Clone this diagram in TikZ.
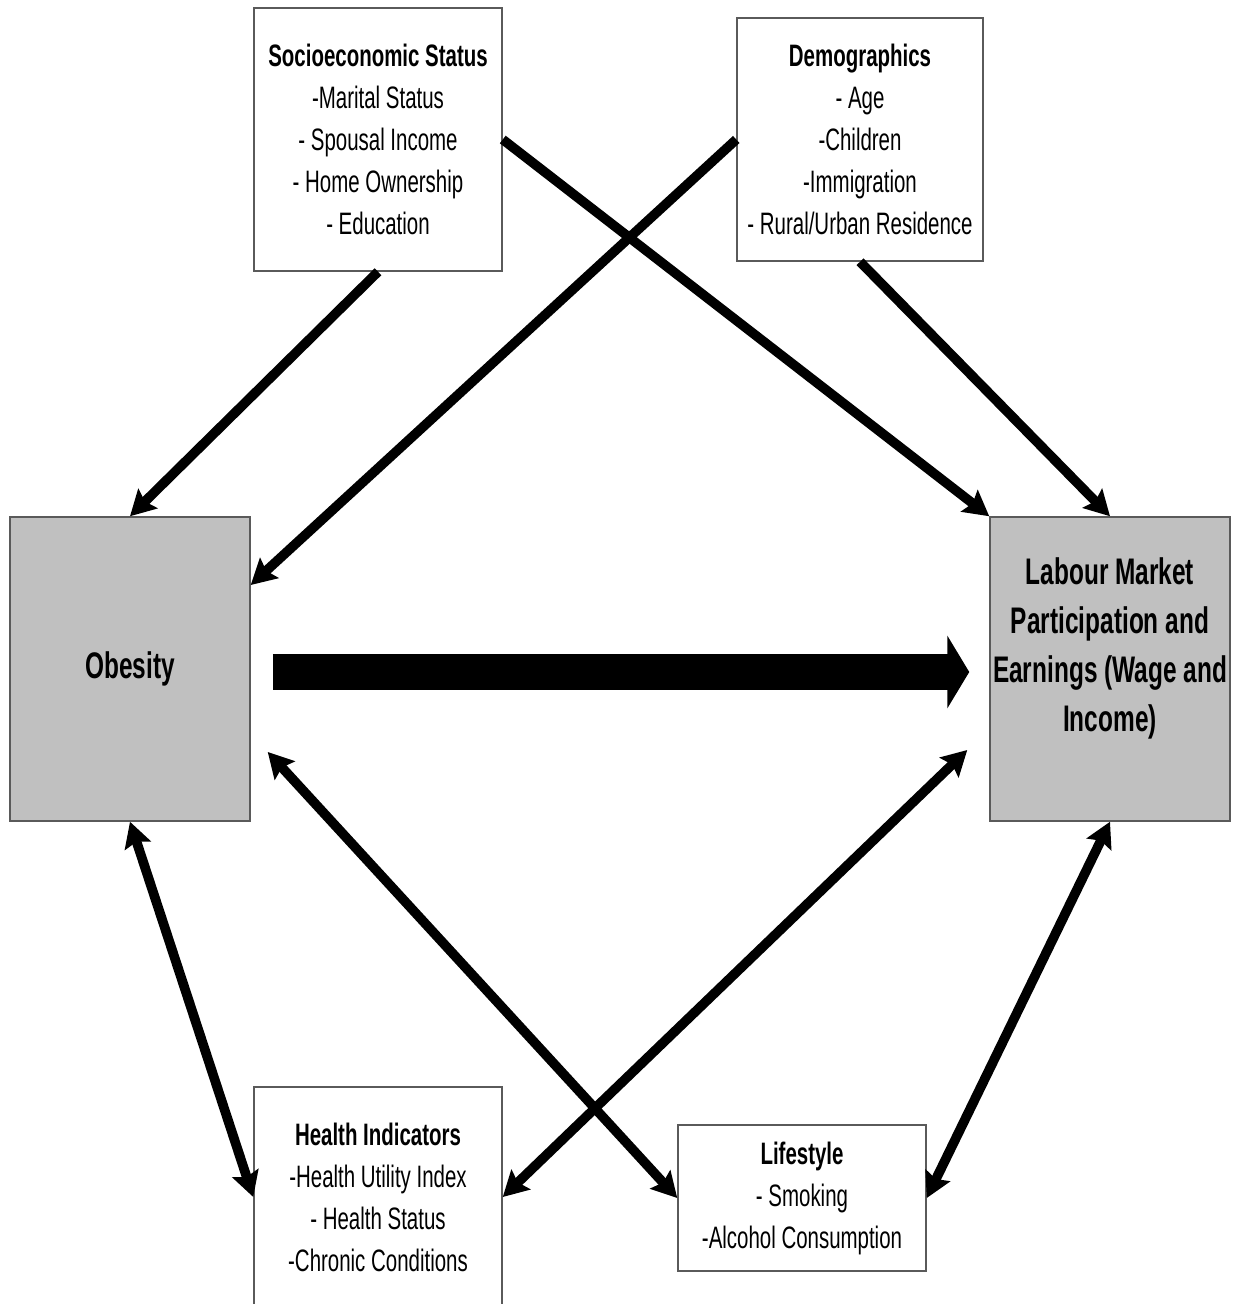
\documentclass[tikz,border=0pt]{standalone}
\usepackage{fontspec}
\setmainfont[FakeStretch=0.66]{Liberation Sans}
\usetikzlibrary{arrows.meta}
\definecolor{boxgray}{HTML}{C0C0C0}
\definecolor{edgegray}{HTML}{5A5A5A}
\newcommand{\smallfnt}{\fontsize{15.5pt}{21pt}\selectfont}
\newcommand{\bigfnt}{\fontsize{18.5pt}{24.5pt}\selectfont\bfseries}
\begin{document}
\begin{tikzpicture}[x=0.5pt,y=-0.5pt,
  box/.style={draw=edgegray, line width=0.75pt, fill=white, inner sep=0pt, align=center, font=\smallfnt},
  gbox/.style={box, fill=boxgray, font=\bigfnt},
  txt/.style={inner sep=0pt, align=center, font=\bigfnt},
  arr/.style={line width=4.8pt, -{Stealth[length=12.5pt,width=13.5pt,inset=2pt]}},
  darr/.style={line width=4.8pt, {Stealth[length=12.5pt,width=13.5pt,inset=2pt]}-{Stealth[length=12.5pt,width=13.5pt,inset=2pt]}},
  bigarr/.style={line width=18pt, -{Triangle[length=11pt,width=36pt]}}
]
\useasboundingbox (0,0) rectangle (1236,1304);
\fill[white] (0,0) rectangle (1236,1304);

\node[box, minimum width=124pt, minimum height=131.5pt] (socio) at (378,139.5)
  {\textbf{Socioeconomic Status}\\-Marital Status\\- Spousal Income\\- Home Ownership\\- Education};
\node[box, minimum width=123pt, minimum height=121.5pt] (demo) at (860,139.5)
  {\textbf{Demographics}\\- Age\\-Children\\-Immigration\\- Rural/Urban Residence};
\node[gbox, minimum width=120pt, minimum height=152pt] (obes) at (130,669) {Obesity};
\node[gbox, minimum width=120pt, minimum height=152pt] (lab) at (1110,669) {};
\node[txt] (labtxt) at (1110,648) {Labour Market\\Participation and\\Earnings (Wage and\\Income)};
\node[box, minimum width=124pt, minimum height=110pt] (health) at (378,1197)
  {\textbf{Health Indicators}\\-Health Utility Index\\- Health Status\\-Chronic Conditions};
\node[box, minimum width=124pt, minimum height=73pt] (life) at (802,1198)
  {\textbf{Lifestyle}\\- Smoking\\-Alcohol Consumption};

\draw[arr] (socio.south) -- (obes.north);
\draw[arr] (socio.east) -- (lab.north west);
\draw[arr] (demo.west) -- ([yshift=42pt]obes.east);
\draw[arr] (demo.south) -- (lab.north);
\draw[bigarr] ([xshift=11pt,yshift=-1.5pt]obes.east) -- ([xshift=-10pt,yshift=-1.5pt]lab.west);
\draw[darr] (obes.south) -- (health.west);
\draw[darr] ([xshift=8.5pt,yshift=-41.5pt]obes.east) -- (life.west);
\draw[darr] ([xshift=-11pt,yshift=-40.5pt]lab.west) -- (health.east);
\draw[darr] (lab.south) -- (life.east);
\end{tikzpicture}
\end{document}
